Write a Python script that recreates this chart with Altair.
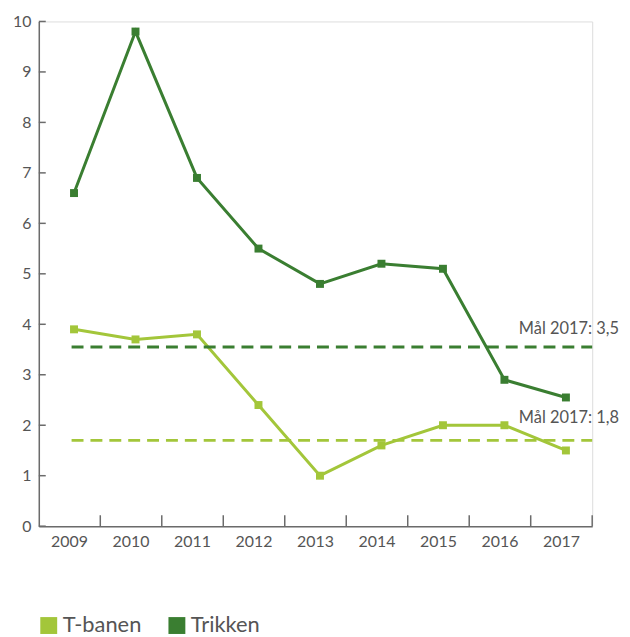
import altair as alt
import pandas as pd

years = ["2009", "2010", "2011", "2012", "2013", "2014", "2015", "2016", "2017"]
tbanen = [3.9, 3.7, 3.8, 2.4, 1.0, 1.6, 2.0, 2.0, 1.5]
trikken = [6.6, 9.8, 6.9, 5.5, 4.8, 5.2, 5.1, 2.9, 2.55]
series = ["T-banen", "Trikken"]
colors = ["#a3c63a", "#3a7e31"]
target_series = ["T-banen", "Trikken"]
target_values = [1.7, 3.55]
target_labels = ["Mål 2017: 1,8", "Mål 2017: 3,5"]
target_label_y = [2.05, 3.8]
y_ticks = [0, 1, 2, 3, 4, 5, 6, 7, 8, 9, 10]

FONT = "Lato"
TXT = "#555555"
AX = "#6b6b6b"

rows = []
for y, a, b in zip(years, tbanen, trikken):
    rows.append({"year": y, "series": series[0], "value": a})
    rows.append({"year": y, "series": series[1], "value": b})
df = pd.DataFrame(rows)
tdf = pd.DataFrame({"series": target_series, "value": target_values,
                    "label": target_labels, "ly": target_label_y})
ydf = pd.DataFrame({"v": y_ticks})
xdf = pd.DataFrame({"year": years})

xscale = alt.Scale(type="band", domain=years, paddingInner=0, paddingOuter=0)
yscale = alt.Scale(domain=[0, 10], nice=False)
cscale = alt.Scale(domain=series, range=colors)

X = alt.X("year:N", scale=xscale, bandPosition=0.5,
          axis=alt.Axis(title=None, tickSize=0, labelPadding=7, labelFontSize=16,
                        labelFont=FONT, labelColor=TXT, domainColor=AX,
                        domainWidth=1.5, labelAngle=0))
Y = alt.Y("value:Q", scale=yscale,
          axis=alt.Axis(title=None, tickSize=0, labelPadding=8, labelFontSize=16,
                        labelFont=FONT, labelColor=TXT, domainColor=AX,
                        domainWidth=1.5, values=y_ticks, grid=False))

color = alt.Color("series:N", scale=cscale,
                  legend=alt.Legend(title=None, orient="none", legendX=-1, legendY=597,
                                    direction="horizontal", symbolType="square",
                                    symbolSize=289, symbolStrokeWidth=0,
                                    labelFontSize=22, labelFont=FONT, labelColor=TXT,
                                    labelOffset=3, columnPadding=24, symbolOpacity=1))

lines = alt.Chart(df).mark_line(strokeWidth=3, xOffset=4.5).encode(
    x=X, y=Y, color=color, detail="series:N",
)
points = alt.Chart(df).mark_square(size=64, opacity=1, xOffset=4.5).encode(
    x=X, y=Y, color=color,
)
targets = alt.Chart(tdf).mark_rule(strokeWidth=3, strokeDash=[12, 7]).encode(
    x=alt.value(33), x2=alt.value(557),
    y=alt.Y("value:Q", scale=yscale),
    color=color,
)
labels = alt.Chart(tdf).mark_text(align="right", baseline="alphabetic", fontSize=16.5,
                                  font=FONT, color=TXT).encode(
    x=alt.value(584),
    y=alt.Y("ly:Q", scale=yscale),
    text="label:N",
)
yt = alt.Chart(ydf).mark_rule(strokeWidth=1.5, color=AX).encode(
    x=alt.value(0), x2=alt.value(7), y=alt.Y("v:Q", scale=yscale),
)
xt = alt.Chart(xdf).mark_rule(strokeWidth=1.5, color=AX).encode(
    x=alt.X("year:N", scale=xscale, bandPosition=1),
    y=alt.value(497), y2=alt.value(508),
)

chart = alt.layer(points, lines, targets, labels, yt, xt).properties(
    width=557, height=508,
    autosize=alt.AutoSizeParams(type="none"),
    padding={"left": 31, "top": 11.5, "right": 30, "bottom": 110},
).configure_view(stroke=None).configure(background="white")

chart.save("out.html", embed_options={"renderer": "svg", "actions": False})
